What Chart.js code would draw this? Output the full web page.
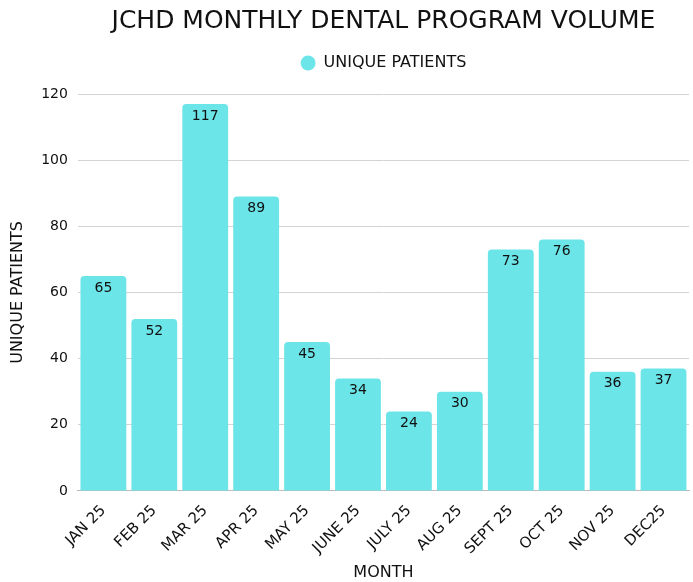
<!DOCTYPE html>
<html>
<head>
<meta charset="utf-8">
<script src="https://cdn.jsdelivr.net/npm/chart.js@4"></script>
<style>
  html, body { margin: 0; padding: 0; background: #fff; }
  #wrap { width: 693px; height: 582px; }
</style>
</head>
<body>
<div id="wrap"><canvas id="chart"></canvas></div>
<script>
// categories + values
var months = ['JAN 25', 'FEB 25', 'MAR 25', 'APR 25', 'MAY 25', 'JUNE 25',
              'JULY 25', 'AUG 25', 'SEPT 25', 'OCT 25', 'NOV 25', 'DEC25'];
var uniquePatients = [65, 52, 117, 89, 45, 34, 24, 30, 73, 76, 36, 37];

var TITLE = 'JCHD MONTHLY DENTAL PROGRAM VOLUME';
var SERIES = 'UNIQUE PATIENTS';
var FONT = "'DejaVu Sans', sans-serif";
var BAR = '#6ce5e8';

// value labels just inside the top of each bar
var barLabels = {
    id: 'barLabels',
    afterDatasetsDraw: function (chart) {
        var ctx = chart.ctx;
        var meta = chart.getDatasetMeta(0);
        ctx.save();
        ctx.font = '14px ' + FONT;
        ctx.fillStyle = '#111';
        ctx.textAlign = 'center';
        ctx.textBaseline = 'top';
        meta.data.forEach(function (bar, i) {
            ctx.fillText(String(uniquePatients[i]), bar.x, bar.y + 5);
        });
        ctx.restore();
    }
};

// title + legend centred over the plot area (not the whole canvas)
var header = {
    id: 'header',
    afterDraw: function (chart) {
        var ctx = chart.ctx;
        var cx = (chart.chartArea.left + chart.chartArea.right) / 2;
        ctx.save();
        ctx.fillStyle = '#111';
        ctx.textBaseline = 'middle';
        ctx.textAlign = 'center';
        ctx.font = '25px ' + FONT;
        ctx.fillText(TITLE, cx, 21);

        ctx.font = '16px ' + FONT;
        var tw = ctx.measureText(SERIES).width;
        var total = 15 + 8 + tw;
        var x0 = cx - total / 2;
        ctx.fillStyle = BAR;
        ctx.beginPath();
        ctx.arc(x0 + 7.5, 63, 7.5, 0, Math.PI * 2);
        ctx.fill();
        ctx.fillStyle = '#111';
        ctx.textAlign = 'left';
        ctx.fillText(SERIES, x0 + 23, 63);
        ctx.restore();
    }
};

new Chart(document.getElementById('chart'), {
    type: 'bar',
    data: {
        labels: months,
        datasets: [{
            label: SERIES,
            data: uniquePatients,
            backgroundColor: BAR,
            borderRadius: { topLeft: 4, topRight: 4 },
            borderSkipped: 'bottom',
            barPercentage: 0.9,
            categoryPercentage: 1.0
        }]
    },
    options: {
        responsive: true,
        maintainAspectRatio: false,
        animation: false,
        layout: { padding: { left: 4, right: 4, top: 94, bottom: 0 } },
        plugins: {
            title: { display: false },
            legend: { display: false },
            tooltip: { enabled: false }
        },
        scales: {
            x: {
                grid: { display: false },
                border: { color: '#bbb' },
                ticks: {
                    color: '#111',
                    maxRotation: 45,
                    minRotation: 45,
                    font: { family: FONT, size: 15 }
                },
                title: {
                    display: true,
                    text: 'MONTH',
                    color: '#111',
                    padding: { top: 2, bottom: 0 },
                    font: { family: FONT, size: 16 }
                }
            },
            y: {
                min: 0,
                max: 120,
                grid: { color: '#d4d4d4', drawTicks: false },
                border: { display: false },
                ticks: {
                    stepSize: 20,
                    padding: 10,
                    color: '#111',
                    font: { family: FONT, size: 14 }
                },
                title: {
                    display: true,
                    text: SERIES,
                    color: '#111',
                    font: { family: FONT, size: 16 }
                }
            }
        }
    },
    plugins: [barLabels, header]
});
</script>
</body>
</html>
